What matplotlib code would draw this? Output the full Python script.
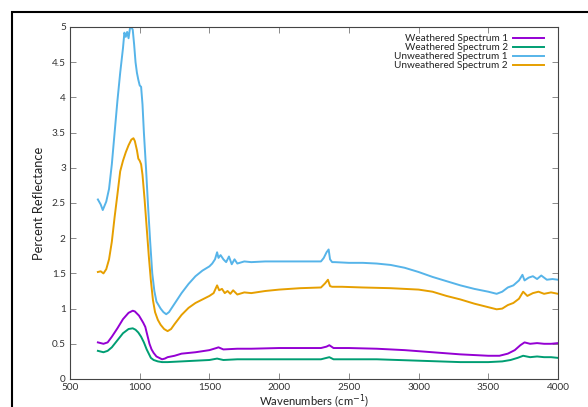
import matplotlib
matplotlib.use("Agg")
import matplotlib.pyplot as plt
from matplotlib.patches import Rectangle

plt.rcParams['font.family'] = ['Lato', 'DejaVu Sans']

# Wavenumbers (cm^-1) and reflectance values
wn_u1 = [700, 720, 735, 760, 780, 800, 820, 840, 860, 880, 890, 900, 910, 920, 930, 940, 950, 960, 970, 980,
         990, 1000, 1010, 1020, 1030, 1045, 1060, 1075, 1090, 1105, 1120, 1135, 1150, 1170, 1190, 1210, 1250,
         1300, 1350, 1400, 1450, 1500, 1520, 1540, 1555, 1565, 1580, 1600, 1620, 1640, 1660, 1680, 1700, 1750,
         1800, 1900, 2000, 2150, 2300, 2320, 2340, 2355, 2365, 2380, 2400, 2500, 2600, 2700, 2800, 2900, 3000,
         3100, 3200, 3300, 3400, 3500, 3560, 3600, 3640, 3680, 3720, 3745, 3760, 3790, 3820, 3850, 3880, 3920,
         3960, 4000]
u1 = [2.55, 2.48, 2.40, 2.52, 2.70, 3.05, 3.50, 3.95, 4.35, 4.70, 4.92, 4.86, 4.93, 4.84, 4.98, 5.00, 4.96,
      4.75, 4.50, 4.35, 4.25, 4.17, 4.15, 3.90, 3.50, 3.00, 2.45, 1.95, 1.50, 1.25, 1.10, 1.05, 1.00, 0.95,
      0.92, 0.95, 1.07, 1.22, 1.35, 1.46, 1.54, 1.60, 1.64, 1.70, 1.80, 1.72, 1.76, 1.70, 1.66, 1.74, 1.63,
      1.70, 1.64, 1.67, 1.66, 1.67, 1.67, 1.67, 1.67, 1.72, 1.80, 1.84, 1.70, 1.66, 1.66, 1.65, 1.65, 1.64,
      1.62, 1.58, 1.52, 1.45, 1.39, 1.33, 1.28, 1.24, 1.21, 1.24, 1.30, 1.33, 1.40, 1.48, 1.40, 1.44, 1.46,
      1.42, 1.47, 1.41, 1.42, 1.41]

wn_u2 = [700, 720, 740, 760, 780, 800, 820, 840, 860, 880, 900, 920, 940, 955, 965, 980, 990, 1000, 1010,
         1020, 1035, 1050, 1065, 1080, 1095, 1110, 1130, 1150, 1175, 1200, 1225, 1250, 1300, 1350, 1400, 1450,
         1500, 1530, 1555, 1570, 1590, 1610, 1630, 1650, 1670, 1700, 1750, 1800, 1900, 2000, 2150, 2300, 2330,
         2350, 2365, 2380, 2450, 2600, 2800, 3000, 3100, 3200, 3300, 3400, 3500, 3560, 3600, 3640, 3680, 3720,
         3750, 3780, 3820, 3860, 3900, 3950, 4000]
u2 = [1.52, 1.53, 1.50, 1.56, 1.70, 1.95, 2.30, 2.62, 2.95, 3.10, 3.22, 3.32, 3.40, 3.42, 3.38, 3.25, 3.13,
      3.10, 3.05, 2.90, 2.55, 2.15, 1.75, 1.40, 1.12, 0.95, 0.84, 0.77, 0.71, 0.68, 0.71, 0.78, 0.91, 1.01,
      1.08, 1.13, 1.18, 1.22, 1.33, 1.26, 1.28, 1.22, 1.25, 1.21, 1.26, 1.20, 1.23, 1.22, 1.25, 1.27, 1.29,
      1.30, 1.36, 1.41, 1.32, 1.31, 1.31, 1.30, 1.29, 1.27, 1.24, 1.18, 1.13, 1.07, 1.02, 0.99, 1.00, 1.05,
      1.08, 1.14, 1.24, 1.18, 1.22, 1.24, 1.21, 1.23, 1.21]

wn_w1 = [700, 720, 740, 770, 800, 840, 880, 920, 950, 965, 980, 995, 1010, 1025, 1040, 1055, 1070, 1085,
         1100, 1120, 1140, 1160, 1180, 1200, 1250, 1300, 1400, 1500, 1550, 1565, 1600, 1700, 1800, 2000, 2300,
         2340, 2360, 2390, 2500, 2700, 2900, 3100, 3300, 3500, 3580, 3640, 3690, 3730, 3760, 3800, 3850, 3900,
         3950, 4000]
w1 = [0.52, 0.51, 0.50, 0.52, 0.60, 0.72, 0.85, 0.94, 0.97, 0.96, 0.93, 0.90, 0.85, 0.80, 0.74, 0.62, 0.50,
      0.42, 0.37, 0.32, 0.30, 0.28, 0.29, 0.31, 0.33, 0.36, 0.38, 0.41, 0.44, 0.45, 0.42, 0.43, 0.43, 0.44,
      0.44, 0.46, 0.48, 0.44, 0.44, 0.43, 0.41, 0.38, 0.35, 0.33, 0.33, 0.36, 0.41, 0.48, 0.52, 0.50, 0.51,
      0.50, 0.50, 0.51]

wn_w2 = [700, 720, 740, 770, 800, 840, 880, 920, 950, 970, 990, 1010, 1030, 1050, 1065, 1080, 1100, 1130,
         1160, 1200, 1300, 1400, 1500, 1555, 1600, 1700, 2000, 2300, 2340, 2360, 2390, 2500, 2700, 3000, 3300,
         3500, 3600, 3660, 3710, 3750, 3800, 3850, 3900, 3950, 4000]
w2 = [0.40, 0.39, 0.38, 0.40, 0.45, 0.55, 0.65, 0.71, 0.72, 0.70, 0.66, 0.60, 0.52, 0.42, 0.36, 0.30, 0.27,
      0.25, 0.24, 0.24, 0.25, 0.26, 0.27, 0.29, 0.27, 0.28, 0.28, 0.28, 0.30, 0.31, 0.28, 0.28, 0.28, 0.26,
      0.24, 0.24, 0.25, 0.27, 0.30, 0.33, 0.31, 0.32, 0.31, 0.31, 0.30]

labels = ['Weathered Spectrum 1', 'Weathered Spectrum 2', 'Unweathered Spectrum 1', 'Unweathered Spectrum 2']
colors = ['#9400d3', '#009e73', '#56b4e9', '#e69f00']
xticks = [500, 1000, 1500, 2000, 2500, 3000, 3500, 4000]
yticks = [0, 0.5, 1, 1.5, 2, 2.5, 3, 3.5, 4, 4.5, 5]
ytick_labels = ['0', '0.5', '1', '1.5', '2', '2.5', '3', '3.5', '4', '4.5', '5']

fig = plt.figure(figsize=(5.88, 4.07), dpi=100)
ax = fig.add_axes([70/588, 1 - 379/407, (558 - 70)/588, (379 - 27)/407])

series = [(wn_w1, w1), (wn_w2, w2), (wn_u1, u1), (wn_u2, u2)]
for (x, y), lab, c in zip(series, labels, colors):
    ax.plot(x, y, color=c, lw=1.4, label=lab)

ax.set_xlim(500, 4000)
ax.set_ylim(0, 5)
ax.set_xticks(xticks)
ax.set_yticks(yticks)
ax.set_yticklabels(ytick_labels)
ax.tick_params(direction='in', top=True, right=True, length=4, width=0.6, color='#777777',
               labelsize=7.2, labelcolor='#333333', pad=3)
for s in ax.spines.values():
    s.set_color('#444444')
    s.set_linewidth(0.8)

ax.set_ylabel('Percent Reflectance', fontsize=9.3, color='#222222', labelpad=5)
ax.set_xlabel('Wavenumbers (cm$^{-1}$)', fontsize=8.2, color='#222222', labelpad=0)

leg = ax.legend(loc='upper right', frameon=False, markerfirst=False, fontsize=7.2,
                handlelength=3.1, handletextpad=0.5, labelspacing=0.0,
                borderaxespad=0.3, bbox_to_anchor=(0.985, 1.0))
for t in leg.get_texts():
    t.set_color('#222222')

fig.patches.append(Rectangle((12/588, -0.1), 1.2, (1 - 12/407) + 0.1, transform=fig.transFigure,
                             fill=False, edgecolor='black', linewidth=1.5))

fig.savefig('out.png', dpi=100)
